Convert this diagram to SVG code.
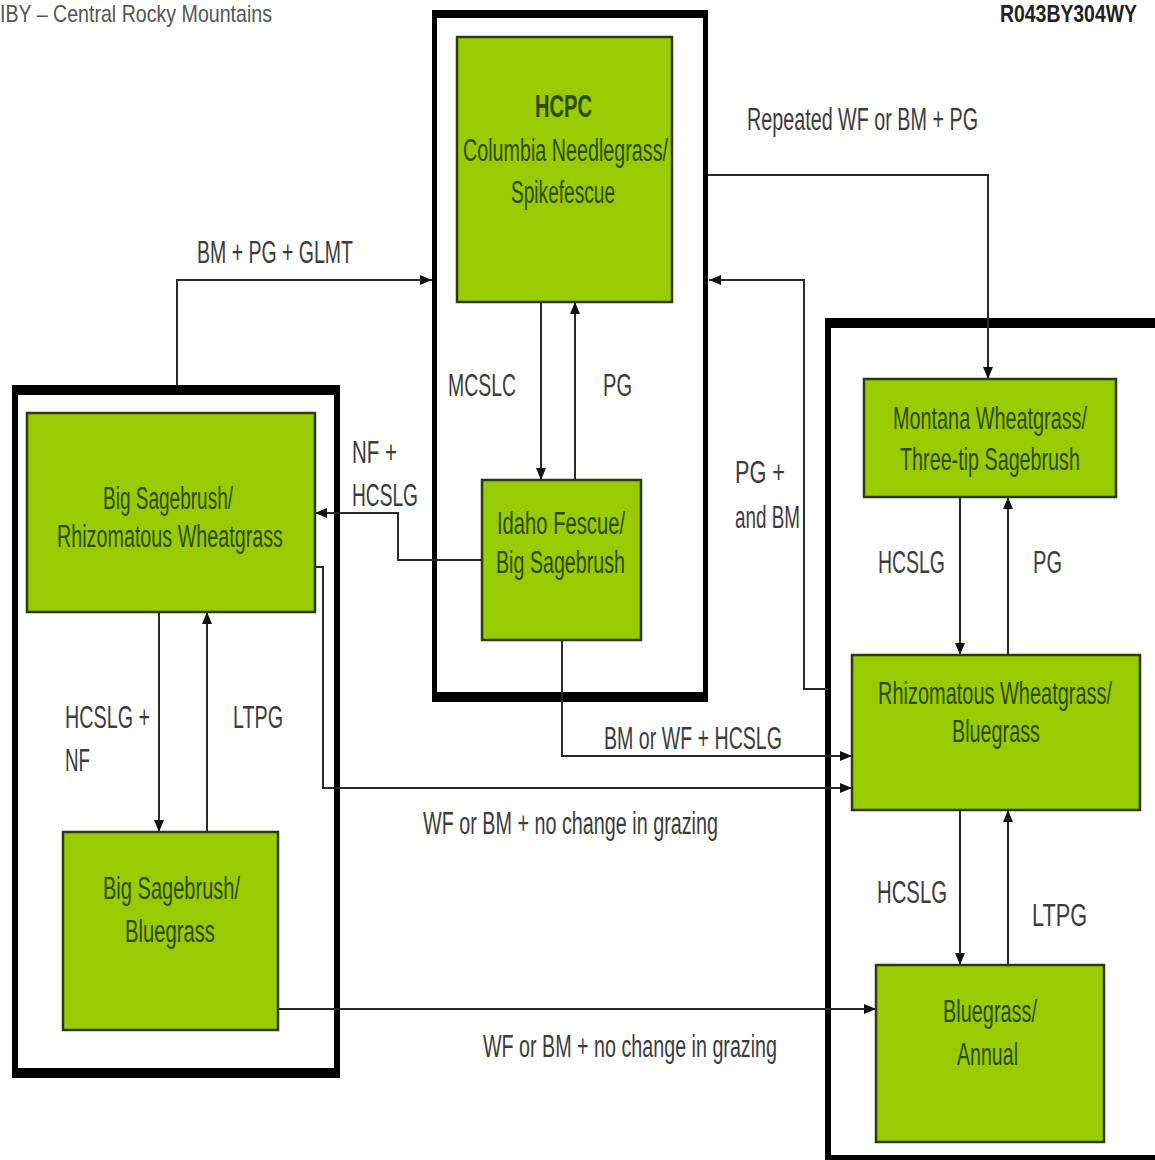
<svg xmlns="http://www.w3.org/2000/svg" width="1155" height="1160" viewBox="0 0 1155 1160">
<style>
.frame{fill:#000;fill-rule:evenodd}
.box{fill:#99cc00;stroke:#2c3a12;stroke-width:2.5}
.bt{font-family:"Liberation Sans",Arial,sans-serif;font-size:31px;fill:#2f4a00;text-anchor:middle}
.lb{font-family:"Liberation Sans",Arial,sans-serif;font-size:31px;fill:#3c3c3c;text-anchor:middle}
.hd{font-family:"Liberation Sans",Arial,sans-serif;font-size:24px}
.cn{fill:none;stroke:#2a2a2a;stroke-width:2}
</style>
<defs>
<marker id="ah" markerUnits="userSpaceOnUse" markerWidth="12" markerHeight="10" refX="12" refY="5" orient="auto">
<path d="M0,0 L12,5 L0,10 z" fill="#111"/>
</marker>
</defs>
<rect width="1155" height="1160" fill="#fff"/>

<g id="headers">
<text class="hd" x="0" y="22" textLength="272" lengthAdjust="spacingAndGlyphs" fill="#555">IBY – Central Rocky Mountains</text>
<text class="hd" x="0" y="0" transform="matrix(0.809,0,0,1,1000,22)" fill="#222" font-weight="bold">R043BY304WY</text>
</g>

<g id="frames">
<path id="frame-center" class="frame" d="M432,10 H708 V702 H432 Z M437,18 V692 H703 V18 Z"/>
<path id="frame-left" class="frame" d="M12,385 H340 V1078 H12 Z M18,395 V1068 H334 V395 Z"/>
<path id="frame-right" class="frame" d="M825,318 H1160 V1162 H825 Z M831,328 V1155 H1160 V328 Z"/>
</g>

<g id="connectors">
<path class="cn" d="M708,175 H988 V379" marker-end="url(#ah)"/>
<path class="cn" d="M828,689 H804 V280 H709" marker-end="url(#ah)"/>
<path class="cn" d="M177,385 V280 H432" marker-end="url(#ah)"/>
<path class="cn" d="M541,302 V480" marker-end="url(#ah)"/>
<path class="cn" d="M575,480 V302" marker-end="url(#ah)"/>
<path class="cn" d="M482,560 H398 V513 H315" marker-end="url(#ah)"/>
<path class="cn" d="M562,640 V756 H852" marker-end="url(#ah)"/>
<path class="cn" d="M315,567 H323 V788 H852" marker-end="url(#ah)"/>
<path class="cn" d="M159,612 V832" marker-end="url(#ah)"/>
<path class="cn" d="M207,832 V612" marker-end="url(#ah)"/>
<path class="cn" d="M278,1009 H876" marker-end="url(#ah)"/>
<path class="cn" d="M960,497 V655" marker-end="url(#ah)"/>
<path class="cn" d="M1008,655 V497" marker-end="url(#ah)"/>
<path class="cn" d="M960,810 V965" marker-end="url(#ah)"/>
<path class="cn" d="M1008,965 V810" marker-end="url(#ah)"/>
</g>

<g id="labels">
<text class="lb" x="862.5" y="130" textLength="231" lengthAdjust="spacingAndGlyphs">Repeated WF or BM + PG</text>
<text class="lb" x="275" y="263" textLength="156" lengthAdjust="spacingAndGlyphs">BM + PG + GLMT</text>
<text class="lb" x="482" y="396" textLength="68" lengthAdjust="spacingAndGlyphs">MCSLC</text>
<text class="lb" x="617.5" y="396" textLength="29" lengthAdjust="spacingAndGlyphs">PG</text>
<text class="lb" x="374.5" y="463" textLength="45" lengthAdjust="spacingAndGlyphs">NF +</text>
<text class="lb" x="385" y="506" textLength="66" lengthAdjust="spacingAndGlyphs">HCSLG</text>
<text class="lb" x="760" y="483" textLength="50" lengthAdjust="spacingAndGlyphs">PG +</text>
<text class="lb" x="767.5" y="528" textLength="65" lengthAdjust="spacingAndGlyphs">and BM</text>
<text class="lb" x="911.5" y="573" textLength="67" lengthAdjust="spacingAndGlyphs">HCSLG</text>
<text class="lb" x="1047.5" y="573" textLength="29" lengthAdjust="spacingAndGlyphs">PG</text>
<text class="lb" x="693" y="749" textLength="178" lengthAdjust="spacingAndGlyphs">BM or WF + HCSLG</text>
<text class="lb" x="570.5" y="834" textLength="295" lengthAdjust="spacingAndGlyphs">WF or BM + no change in grazing</text>
<text class="lb" x="107.5" y="728" textLength="85" lengthAdjust="spacingAndGlyphs">HCSLG +</text>
<text class="lb" x="77.5" y="771" textLength="25" lengthAdjust="spacingAndGlyphs">NF</text>
<text class="lb" x="258" y="728" textLength="50" lengthAdjust="spacingAndGlyphs">LTPG</text>
<text class="lb" x="912" y="903" textLength="70" lengthAdjust="spacingAndGlyphs">HCSLG</text>
<text class="lb" x="1059.5" y="926" textLength="55" lengthAdjust="spacingAndGlyphs">LTPG</text>
<text class="lb" x="630" y="1057" textLength="294" lengthAdjust="spacingAndGlyphs">WF or BM + no change in grazing</text>
</g>

<g id="node-hcpc">
<rect class="box" x="457" y="37" width="215" height="265"/>
<text class="bt" x="563.5" y="117" textLength="57" lengthAdjust="spacingAndGlyphs" font-weight="bold" fill="#1e3000" font-size="29">HCPC</text>
<text class="bt" x="565.5" y="161" textLength="205" lengthAdjust="spacingAndGlyphs">Columbia Needlegrass/</text>
<text class="bt" x="563" y="203" textLength="104" lengthAdjust="spacingAndGlyphs">Spikefescue</text>
</g>

<g id="node-idaho">
<rect class="box" x="482" y="480" width="159" height="160"/>
<text class="bt" x="561" y="534" textLength="128" lengthAdjust="spacingAndGlyphs">Idaho Fescue/</text>
<text class="bt" x="560.5" y="573" textLength="129" lengthAdjust="spacingAndGlyphs">Big Sagebrush</text>
</g>

<g id="node-bigsage-rhizo">
<rect class="box" x="27" y="413" width="288" height="199"/>
<text class="bt" x="168" y="509" textLength="130" lengthAdjust="spacingAndGlyphs">Big Sagebrush/</text>
<text class="bt" x="170" y="547" textLength="226" lengthAdjust="spacingAndGlyphs">Rhizomatous Wheatgrass</text>
</g>

<g id="node-bigsage-bluegrass">
<rect class="box" x="63" y="832" width="215" height="198"/>
<text class="bt" x="171.5" y="899" textLength="137" lengthAdjust="spacingAndGlyphs">Big Sagebrush/</text>
<text class="bt" x="170" y="942" textLength="90" lengthAdjust="spacingAndGlyphs">Bluegrass</text>
</g>

<g id="node-montana">
<rect class="box" x="864" y="379" width="252" height="118"/>
<text class="bt" x="0" y="0" transform="matrix(0.64,0,0,1,990,429)">Montana Wheatgrass/</text>
<text class="bt" x="0" y="0" transform="matrix(0.637,0,0,1,990,470)">Three-tip Sagebrush</text>
</g>

<g id="node-rhizo-bluegrass">
<rect class="box" x="852" y="655" width="288" height="155"/>
<text class="bt" x="0" y="0" transform="matrix(0.644,0,0,1,995,704)">Rhizomatous Wheatgrass/</text>
<text class="bt" x="996" y="742" textLength="88" lengthAdjust="spacingAndGlyphs">Bluegrass</text>
</g>

<g id="node-bluegrass-annual">
<rect class="box" x="876" y="965" width="228" height="177"/>
<text class="bt" x="990" y="1022" textLength="94" lengthAdjust="spacingAndGlyphs">Bluegrass/</text>
<text class="bt" x="987.5" y="1065" textLength="61" lengthAdjust="spacingAndGlyphs">Annual</text>
</g>
</svg>
